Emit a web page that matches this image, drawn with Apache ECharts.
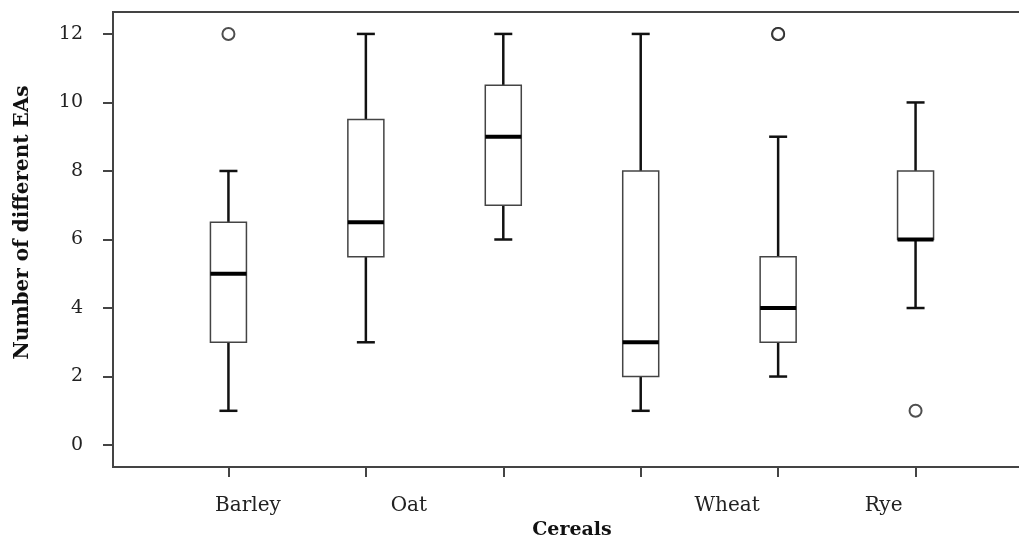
<!DOCTYPE html>
<html>
<head>
<meta charset="utf-8">
<script src="https://cdn.jsdelivr.net/npm/echarts@6/dist/echarts.min.js"></script>
<style>
  html, body { margin: 0; padding: 0; background: #fff; }
  #chart { width: 1019px; height: 538px; }
</style>
</head>
<body>
<div id="chart"></div>
<script>
// data
var categories = ['Barley', 'Oat', '', '', 'Wheat', 'Rye'];
var lowWhisker = [1, 3, 6, 1, 2, 4];
var lowerQuartile = [3, 5.5, 7, 2, 3, 6];
var medians = [5, 6.5, 9, 3, 4, 6];
var upperQuartile = [6.5, 9.5, 10.5, 8, 5.5, 8];
var highWhisker = [8, 12, 12, 12, 9, 10];
var outliers = [[0, 12], [4, 12], [4, 12], [5, 1]];
var yTicks = [0, 2, 4, 6, 8, 10, 12];

var chart = echarts.init(document.getElementById('chart'));
var font = 'DejaVu Serif';

var boxRows = categories.map(function (c, i) {
    return [i, lowWhisker[i], lowerQuartile[i], medians[i], upperQuartile[i], highWhisker[i]];
});
var catIndex = categories.map(function (c, i) { return i; });

// shift of the tick labels, they sit off their ticks in the original
var labelRich = {
    c0: { padding: [0, 0, 0, 39] },
    c1: { padding: [0, 0, 0, 86] },
    c4: { padding: [0, 102, 0, 0] },
    c5: { padding: [0, 64, 0, 0] }
};

function renderBox(params, api) {
    var i = api.value(0);
    var lo = api.coord([i, api.value(1)]);
    var b1 = api.coord([i, api.value(2)]);
    var md = api.coord([i, api.value(3)]);
    var b3 = api.coord([i, api.value(4)]);
    var hi = api.coord([i, api.value(5)]);
    var x = lo[0], w = 36, cap = 9;
    var whisker = { stroke: '#111', lineWidth: 2.5 };
    return {
        type: 'group',
        children: [
            { type: 'line', shape: { x1: x, y1: hi[1], x2: x, y2: b3[1] }, style: whisker },
            { type: 'line', shape: { x1: x, y1: b1[1], x2: x, y2: lo[1] }, style: whisker },
            { type: 'line', shape: { x1: x - cap, y1: hi[1], x2: x + cap, y2: hi[1] }, style: whisker },
            { type: 'line', shape: { x1: x - cap, y1: lo[1], x2: x + cap, y2: lo[1] }, style: whisker },
            { type: 'rect', shape: { x: x - w / 2, y: b3[1], width: w, height: b1[1] - b3[1] },
              style: { fill: '#fff', stroke: '#444', lineWidth: 1.5 } },
            { type: 'line', shape: { x1: x - w / 2, y1: md[1], x2: x + w / 2, y2: md[1] },
              style: { stroke: '#000', lineWidth: 4 } }
        ]
    };
}

var option = {
    backgroundColor: '#fff',
    animation: false,
    grid: {
        left: 113, top: 12, width: 918, height: 455,
        outerBoundsMode: 'none',
        containLabel: false,
        show: true, borderColor: '#444', borderWidth: 2
    },
    xAxis: {
        type: 'value',
        min: -0.84,
        max: 5.84,
        name: 'Cereals',
        nameLocation: 'middle',
        nameGap: 49,
        nameTextStyle: { fontFamily: font, fontWeight: 'bold', fontSize: 19, color: '#111' },
        axisLine: { show: true, onZero: false, lineStyle: { color: '#444', width: 2 } },
        axisTick: { show: true, customValues: catIndex, length: 10, lineStyle: { color: '#444', width: 2 } },
        axisLabel: {
            customValues: catIndex,
            margin: 29,
            fontFamily: font, fontSize: 20, color: '#222',
            formatter: function (v) {
                var name = categories[Math.round(v)];
                return name ? '{c' + Math.round(v) + '|' + name + '}' : '';
            },
            rich: labelRich
        },
        splitLine: { show: false }
    },
    yAxis: {
        type: 'value',
        min: -0.64,
        max: 12.64,
        name: 'Number of different EAs',
        nameLocation: 'middle',
        nameGap: 80,
        nameTextStyle: { fontFamily: font, fontWeight: 'bold', fontSize: 20, color: '#111', padding: [0, 0, 0, 34] },
        axisLine: { show: true, onZero: false, lineStyle: { color: '#444', width: 2 } },
        axisTick: { show: true, customValues: yTicks, length: 10, lineStyle: { color: '#444', width: 2 } },
        axisLabel: { customValues: yTicks, margin: 30, fontFamily: font, fontSize: 19, color: '#222' },
        splitLine: { show: false }
    },
    series: [
        {
            type: 'custom',
            renderItem: renderBox,
            encode: { x: 0, y: [1, 2, 3, 4, 5] },
            data: boxRows
        },
        {
            type: 'scatter',
            symbol: 'circle',
            symbolSize: 12,
            itemStyle: { color: '#fff', borderColor: '#222', borderWidth: 2 },
            data: outliers
        }
    ]
};
chart.setOption(option);
</script>
</body>
</html>
